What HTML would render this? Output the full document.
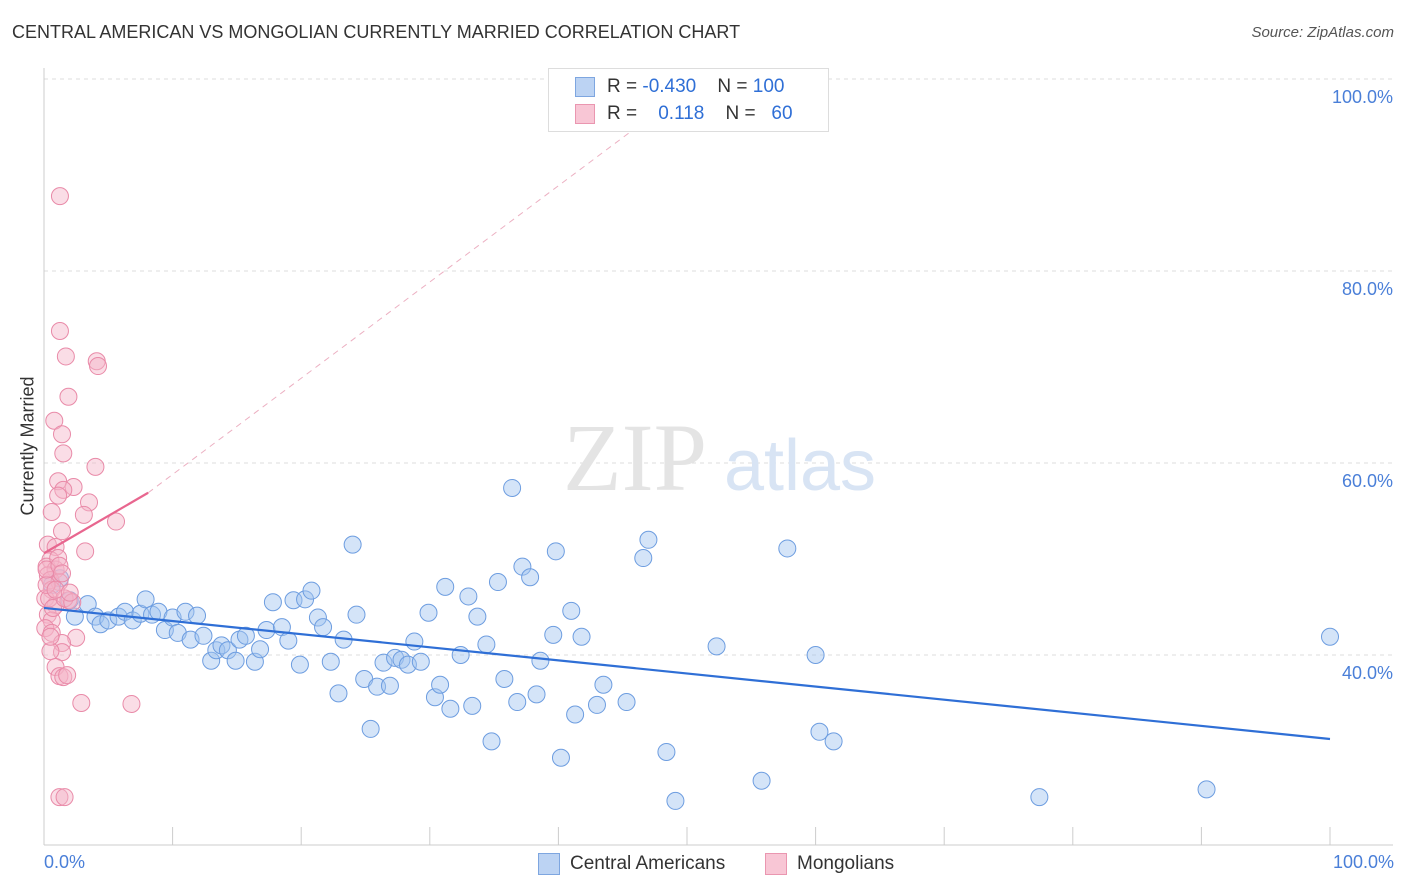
<!DOCTYPE html>
<html><head><meta charset="utf-8">
<style>
body{margin:0;background:#fff;font-family:"Liberation Sans",sans-serif;}
#wrap{position:relative;width:1406px;height:892px;overflow:hidden;}
.t{position:absolute;white-space:nowrap;}
</style></head>
<body>
<div id="wrap">
<div class="t" style="left:12px;top:22px;font-size:18px;color:#333;">CENTRAL AMERICAN VS MONGOLIAN CURRENTLY MARRIED CORRELATION CHART</div>
<div class="t" style="right:12px;top:24px;font-size:15px;color:#555;font-style:italic;">Source: ZipAtlas.com</div>
<div class="t" style="left:-32px;top:445px;font-size:18px;color:#333;transform:rotate(-90deg);transform-origin:center;width:120px;text-align:center;">Currently Married</div>
<svg id="plot" width="1406" height="892" style="position:absolute;left:0;top:0"></svg>
</div>
<script>
const blueX=[1.24,.62,2.0,3.4,2.4,4.0,4.4,5.0,5.8,6.3,6.9,7.5,7.9,8.4,8.9,9.4,10.0,10.4,11.0,11.4,11.9,12.4,13.0,13.4,13.8,14.3,14.9,15.2,15.7,16.4,16.8,17.3,17.8,18.5,19.0,19.4,19.9,20.3,20.8,21.3,21.7,22.3,22.9,23.3,24.0,24.3,24.9,25.4,25.9,26.4,26.9,27.3,27.8,28.3,28.8,29.3,29.9,30.4,30.8,31.2,31.6,32.4,33.0,33.3,33.7,34.4,34.8,35.3,35.8,36.4,36.8,37.2,37.8,38.3,38.6,39.6,39.8,40.2,41.0,41.3,41.8,43.0,43.5,45.3,46.6,47.0,48.4,49.1,52.3,55.8,57.8,60.0,60.3,61.4,77.4,90.4,100.0];
const blueY=[48.0,47.3,45.7,45.3,44.0,44.0,43.2,43.6,44.0,44.5,43.6,44.3,45.8,44.2,44.5,42.6,43.9,42.3,44.5,41.6,44.1,42.0,39.4,40.5,41.0,40.5,39.4,41.6,42.0,39.3,40.6,42.6,45.5,42.9,41.5,45.7,39.0,45.8,46.7,43.9,42.9,39.3,36.0,41.6,51.5,44.2,37.5,32.3,36.7,39.2,36.8,39.7,39.5,39.0,41.4,39.3,44.4,35.6,36.9,47.1,34.4,40.0,46.1,34.7,44.0,41.1,31.0,47.6,37.5,57.4,35.1,49.2,48.1,35.9,39.4,42.1,50.8,29.3,44.6,33.8,41.9,34.8,36.9,35.1,50.1,52.0,29.9,24.8,40.9,26.9,51.1,40.0,32.0,31.0,25.2,26.0,41.9];
const pinkX=[1.24,1.24,1.7,4.1,4.2,1.9,.8,1.4,1.5,4.0,1.1,2.3,1.5,1.1,3.5,.6,3.1,5.6,1.4,.3,.9,3.2,.5,.2,.9,.3,.5,1.2,.6,.1,.9,1.9,.3,.6,.1,.6,2.5,1.4,1.4,.5,.9,1.2,1.5,1.8,2.9,6.8,1.2,1.6,1.1,.4,.7,.2,1.6,2.2,.5,.9,.2,1.2,1.4,2.0];
const pinkY=[87.8,73.75,71.1,70.6,70.1,66.9,64.4,63.0,61.0,59.6,58.1,57.5,57.2,56.6,55.9,54.9,54.6,53.9,52.9,51.5,51.25,50.8,49.9,49.2,48.9,48.3,47.8,47.6,46.8,45.9,45.2,45.7,44.2,43.6,42.8,42.3,41.8,41.25,40.3,40.4,38.75,37.8,37.7,37.9,35.0,34.9,25.2,25.2,50.1,45.9,44.9,47.3,45.9,45.5,41.9,46.8,48.9,49.3,48.5,46.5];
const blueTrendX=[0,100], blueTrendY=[44.9,31.25];
const pinkTrendX=[0,8.1], pinkTrendY=[50.6,56.9];
const pinkDashX=[8.1,47.9], pinkDashY=[56.9,96.8];
const yTicks=[100,80,60,40];
const yTickLabels=["100.0%","80.0%","60.0%","40.0%"];
const xTicks=[10,20,30,40,50,60,70,80,90,100];

const NS="http://www.w3.org/2000/svg";
const svg=document.getElementById('plot');
const X=v=>44+v*12.86, Y=v=>79+(100-v)*9.6;
function mk(t,a,p){const e=document.createElementNS(NS,t);for(const k in a)e.setAttribute(k,a[k]);(p||svg).appendChild(e);return e;}

// gridlines
yTicks.forEach((v,i)=>{
 const l=mk('line',{x1:44,x2:1393,y1:Y(v),y2:Y(v),stroke:'#ddd','stroke-dasharray':'4,4'});
 
 
 const t=mk('text',{x:1393,y:Y(v)+24,'text-anchor':'end','font-size':18,fill:'#4a7fd8','font-family':'Liberation Sans'});
 t.textContent=yTickLabels[i];
 
 
});
// axes
let ax=mk('line',{x1:44,x2:44,y1:68,y2:845,stroke:'#ccc'});


ax=mk('line',{x1:44,x2:1393,y1:845,y2:845,stroke:'#ccc'});


xTicks.forEach(v=>{
 const l=mk('line',{x1:X(v),x2:X(v),y1:827,y2:845,stroke:'#ccc'});
 
 
});
// watermark
let wm=mk('text',{x:635,y:490,'text-anchor':'middle','font-size':96,fill:'#e4e4e4','font-family':'Liberation Serif'});
wm.textContent='ZIP';


wm=mk('text',{x:800,y:490,'text-anchor':'middle','font-size':72,fill:'#d8e4f4','font-family':'Liberation Sans'});
wm.textContent='atlas';



blueX.forEach((v,i)=>{
 const c=mk('circle',{cx:X(v),cy:Y(blueY[i]),r:8.5,fill:'rgba(160,195,240,0.45)',stroke:'#6d9de0','stroke-width':1});
 
 
});
pinkX.forEach((v,i)=>{
 const c=mk('circle',{cx:X(v),cy:Y(pinkY[i]),r:8.5,fill:'rgba(245,180,200,0.45)',stroke:'#e98aa8','stroke-width':1});
 
 
});
let tl=mk('line',{x1:X(blueTrendX[0]),y1:Y(blueTrendY[0]),x2:X(blueTrendX[1]),y2:Y(blueTrendY[1]),stroke:'#2f6fd6','stroke-width':2.2});


tl=mk('line',{x1:X(pinkDashX[0]),y1:Y(pinkDashY[0]),x2:X(pinkDashX[1]),y2:Y(pinkDashY[1]),stroke:'#ecb0c2','stroke-width':1,'stroke-dasharray':'6,5'});


tl=mk('line',{x1:X(pinkTrendX[0]),y1:Y(pinkTrendY[0]),x2:X(pinkTrendX[1]),y2:Y(pinkTrendY[1]),stroke:'#e8668f','stroke-width':2.2});


</script>
<div class="t" style="left:44px;top:852px;font-size:18px;color:#4a7fd8;">0.0%</div>
<div class="t" style="right:12px;top:852px;font-size:18px;color:#4a7fd8;">100.0%</div>
<div style="position:absolute;left:548px;top:68px;width:279px;height:62px;border:1px solid #ddd;background:#fff;font-size:19px;color:#333;">
 <div style="position:absolute;left:26px;top:8px;width:18px;height:18px;background:#bcd3f3;border:1px solid #7ea6e0;"></div>
 <div class="t" style="left:58px;top:7px;">R = <span style="color:#2f6fd6">-0.430</span>&nbsp;&nbsp;&nbsp; N = <span style="color:#2f6fd6">100</span></div>
 <div style="position:absolute;left:26px;top:35px;width:18px;height:18px;background:#f8c6d5;border:1px solid #ea96b0;"></div>
 <div class="t" style="left:58px;top:34px;">R = &nbsp;&nbsp;&nbsp;<span style="color:#2f6fd6">0.118</span>&nbsp;&nbsp;&nbsp; N = &nbsp;&nbsp;<span style="color:#2f6fd6">60</span></div>
</div>
<div style="position:absolute;left:538px;top:853px;width:20px;height:20px;background:#bcd3f3;border:1px solid #7ea6e0;"></div>
<div class="t" style="left:570px;top:853px;font-size:19px;color:#333;">Central Americans</div>
<div style="position:absolute;left:765px;top:853px;width:20px;height:20px;background:#f8c6d5;border:1px solid #ea96b0;"></div>
<div class="t" style="left:797px;top:853px;font-size:19px;color:#333;">Mongolians</div>
</body></html>
